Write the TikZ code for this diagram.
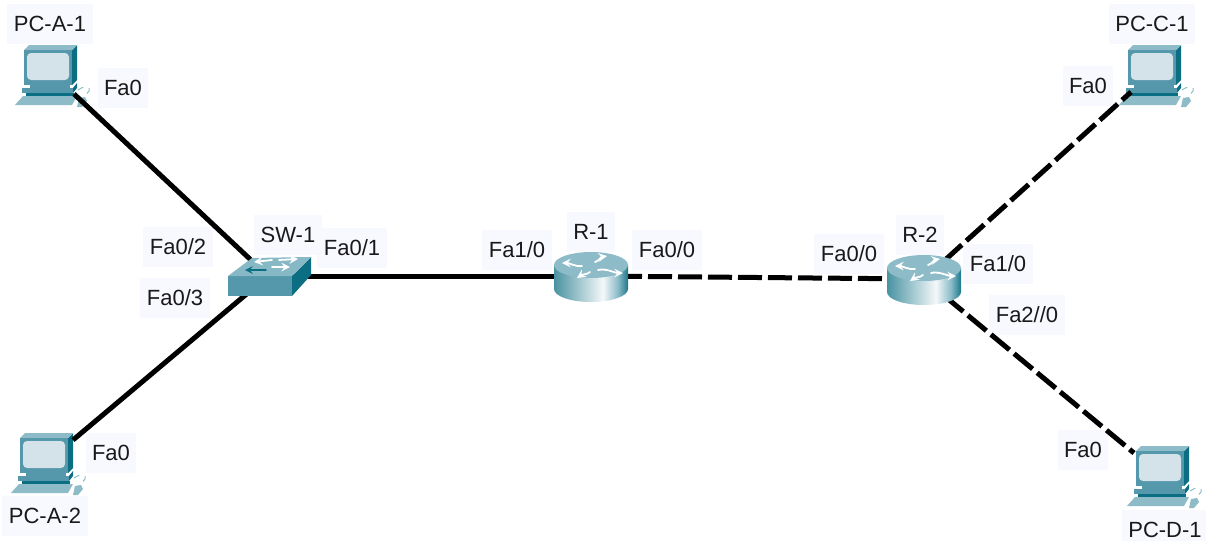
\documentclass[tikz,border=0pt]{standalone}
\usepackage{fontspec}
\setmainfont{Liberation Sans}
\usetikzlibrary{calc}
\usetikzlibrary{arrows}

\definecolor{fondetiq}{HTML}{F8F8FF}
\definecolor{tealclair}{HTML}{8DBCC8}
\definecolor{tealmoyen}{HTML}{5597AB}
\definecolor{tealfonce}{HTML}{0C6E83}
\definecolor{ecran}{HTML}{D3E3E9}

\tikzstyle{etiq}    =[fill=fondetiq, font=\fontsize{11}{13}\selectfont, text=black!90, inner xsep=3.25pt, inner ysep=0pt, minimum height=20pt]
\tikzstyle{cable}   =[line width=2.5pt, line cap=butt, black]
\tikzstyle{cablept} =[cable, dash pattern=on 12pt off 3pt, dash phase=1.5pt]
\tikzstyle{fleche}  =[white, line width=0.9pt, line cap=round, -stealth]

\pgfdeclarehorizontalshading{corpsrouteur}{100bp}{color(0bp)=(tealfonce!75); color(25bp)=(tealfonce!75); color(58bp)=(white!90!tealclair); color(68bp)=(tealclair); color(76bp)=(tealfonce); color(100bp)=(tealfonce)}

\begin{document}
\begin{tikzpicture}[x=0.5pt,y=-0.5pt]

\clip (0,0) rectangle (1206,541);
\fill[white] (0,0) rectangle (1206,541);

%%%%%%%%%%%%%%%%%%%%%%%%
%Etiquettes
%%%%%%%%%%%%%%%%%%%%%%%%

\node[etiq] (lblPCA1) at (50,24) {PC-A-1};
\node[etiq] (lblPCA2) at (45,516) {PC-A-2};
\node[etiq] (lblPCC1) at (1152,24) {PC-C-1};
\node[etiq] (lblPCD1) at (1165,530) {PC-D-1};
\node[etiq] (lblSW1) at (288,235) {SW-1};
\node[etiq] (lblR1) at (591,232) {R-1};
\node[etiq] (lblR2) at (920,235) {R-2};

\node[etiq] (portA1) at (123,88) {Fa0};
\node[etiq] (portA2) at (111,453) {Fa0};
\node[etiq] (portC1) at (1088,86) {Fa0};
\node[etiq] (portD1) at (1083,450) {Fa0};
\node[etiq] (portSWa) at (178,247) {Fa0/2};
\node[etiq] (portSWb) at (175,298) {Fa0/3};
\node[etiq] (portSWc) at (352,248) {Fa0/1};
\node[etiq] (portRa) at (517,250) {Fa1/0};
\node[etiq] (portRb) at (667,250) {Fa0/0};
\node[etiq] (portRc) at (849,254) {Fa0/0};
\node[etiq] (portRd) at (998,264) {Fa1/0};
\node[etiq] (portRe) at (1027,315) {Fa2//0};

%%%%%%%%%%%%%%%%%%%%%%%%
%PC (origine : coin haut gauche du moniteur)
%%%%%%%%%%%%%%%%%%%%%%%%

\foreach \x/\y in {24/47,20/435,1128/47,1136/448}{
\begin{scope}[shift={(\x,\y)}]
\fill[tealfonce] (48,3) -- (53,-2) -- (53,33) -- (48,38) -- cycle; %cote du moniteur
\fill[tealclair] (0,3) -- (5,-2) -- (53,-2) -- (48,3) -- cycle; %dessus du moniteur
\fill[tealmoyen] (0,3) rectangle (48,38); %face avant
\fill[ecran, rounded corners=2pt] (3,6) rectangle (45,33); %ecran
\fill[tealmoyen] (6,38) rectangle (46,41); %pied
\fill[tealmoyen] (-2,41) -- (49,41) -- (49,46) -- (-2,46) -- cycle; %socle
\fill[tealfonce] (49,41) -- (53,36) -- (53,41) -- (49,46) -- cycle;
\fill[tealfonce] (2,46) rectangle (50,49);
\fill[tealclair] (-9,58) -- (-1,49) -- (53,49) -- (48,58) -- cycle; %clavier
\fill[tealclair] (55,51) -- (61,50) -- (63,54) -- (58,60) -- (53,60) -- cycle; %souris
\draw[tealclair, line width=0.5pt, dashed] (54,43) .. controls (58,39) and (68,39) .. (65,44) .. controls (62,48) and (60,48) .. (59,51);
\end{scope}
}

%%%%%%%%%%%%%%%%%%%%%%%%
%Points d'attache des cables
%%%%%%%%%%%%%%%%%%%%%%%%

\coordinate (PCA1) at (74,94);
\coordinate (PCA2) at (73,440);
\coordinate (PCC1) at (1131,92);
\coordinate (PCD1) at (1134,453);
\coordinate (SW1) at (268,276);
\coordinate (R1) at (591,276);
\coordinate (R2) at (924,279);

\draw[cable] (PCA1)--(SW1);
\draw[cable] (PCA2)--(SW1);
\draw[cable] (SW1)--(R1);
\draw[cablept] (R1)--(R2);
\draw[cablept] (R2)--(PCC1);
\draw[cablept] (R2)--(PCD1);

%%%%%%%%%%%%%%%%%%%%%%%%
%Switch
%%%%%%%%%%%%%%%%%%%%%%%%

\begin{scope}
\fill[tealmoyen] (228,276) rectangle (292,296); %face avant
\fill[tealfonce] (292,276) -- (311,257) -- (311,275) -- (292,296) -- cycle; %cote
\fill[tealclair!90!tealmoyen] (228,276) -- (252,258) -- (311,257) -- (292,276) -- cycle; %dessus
\draw[fleche] (272,260)--(254,262);
\draw[fleche] (279,260)--(298,259);
\draw[tealfonce, line width=0.7pt, line cap=round, -stealth] (266,270)--(245,270);
\draw[fleche] (272,267)--(290,267);
\end{scope}

%%%%%%%%%%%%%%%%%%%%%%%%
%Routeurs (origine : centre du dessus)
%%%%%%%%%%%%%%%%%%%%%%%%

\foreach \x/\y in {591/265,924/268}{
\begin{scope}[shift={(\x,\y)}]
\shade[shading=corpsrouteur] (-37,0) -- (-37,24) arc[start angle=180, end angle=0, x radius=37, y radius=13] -- (37,0) -- cycle; %corps
\fill[tealclair] (0,0) ellipse [x radius=37, y radius=13]; %dessus
\draw[fleche] (-9,1) .. controls (-15,2) and (-22,-2) .. (-29,-2);
\draw[fleche] (4,-3) .. controls (8,-4) and (10,-8) .. (16,-9);
\draw[fleche] (7,5) .. controls (15,3) and (24,8) .. (32,8);
\draw[fleche] (-1,7) .. controls (-5,10) and (-8,9) .. (-14,13);
\end{scope}
}

\end{tikzpicture}
\end{document}
